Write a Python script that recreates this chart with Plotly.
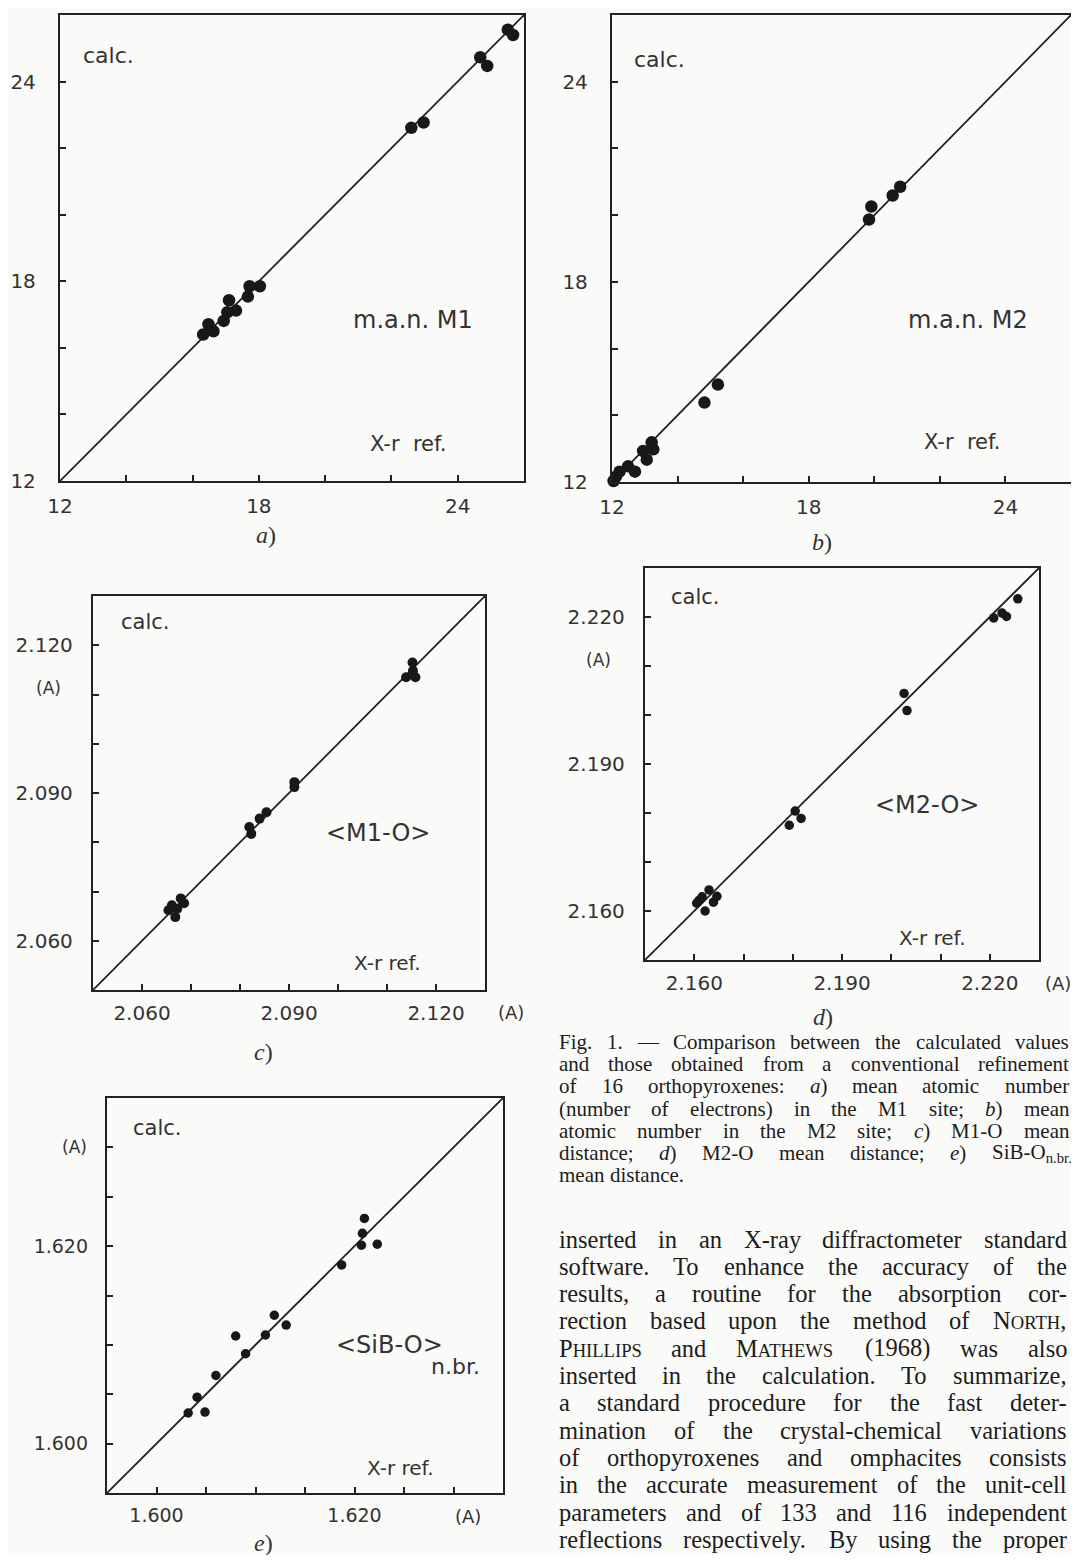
import plotly.graph_objects as go

# page is 1079 x 1563; the html body keeps an 8 px margin, so the figure is
# sized to fit inside it and every position below is given in page pixels.
PAGE_W, PAGE_H = 1079, 1563
OFF = 8
W, H = PAGE_W - 2 * OFF, PAGE_H - 2 * OFF

# ---------------- data ----------------
# a) mean atomic number, M1 site
a_xref = [16.32, 16.48, 16.63, 16.94, 17.05, 17.10, 17.31, 17.67, 17.72, 18.03,
          22.60, 22.97, 24.68, 24.89, 25.51, 25.67]
a_calc = [16.40, 16.71, 16.50, 16.81, 17.07, 17.43, 17.12, 17.54, 17.85, 17.85,
          22.61, 22.77, 24.73, 24.47, 25.56, 25.40]
# b) mean atomic number, M2 site
b_xref = [12.05, 12.12, 12.23, 12.49, 12.70, 12.95, 13.06, 13.21, 13.26, 14.82,
          15.23, 19.84, 19.91, 20.56, 20.79]
b_calc = [12.03, 12.16, 12.31, 12.47, 12.31, 12.93, 12.67, 13.19, 12.98, 14.38,
          14.92, 19.87, 20.26, 20.59, 20.85]
# c) <M1-O>
c_xref = [2.0654, 2.0661, 2.0668, 2.0672, 2.0679, 2.0686, 2.0819, 2.0823, 2.0840,
          2.0854, 2.0911, 2.0911, 2.1139, 2.1152, 2.1153, 2.1158]
c_calc = [2.0662, 2.0672, 2.0648, 2.0665, 2.0686, 2.0676, 2.0831, 2.0817, 2.0848,
          2.0861, 2.0922, 2.0912, 2.1135, 2.1165, 2.1148, 2.1135]
# d) <M2-O>
d_xref = [2.1605, 2.1610, 2.1616, 2.1622, 2.1630, 2.1639, 2.1646, 2.1793, 2.1805,
          2.1817, 2.2026, 2.2032, 2.2208, 2.2225, 2.2234, 2.2257]
d_calc = [2.1616, 2.1622, 2.1629, 2.1600, 2.1643, 2.1618, 2.1630, 2.1775, 2.1804,
          2.1789, 2.2044, 2.2009, 2.2198, 2.2208, 2.2201, 2.2237]
# e) <SiB-O> n.br.
e_xref = [1.6032, 1.6041, 1.6049, 1.6060, 1.6080, 1.6090, 1.6110, 1.6119, 1.6131,
          1.6187, 1.6208, 1.6207, 1.6210, 1.6223]
e_calc = [1.6031, 1.6047, 1.6032, 1.6069, 1.6109, 1.6091, 1.6110, 1.6130, 1.6120,
          1.6181, 1.6213, 1.6201, 1.6228, 1.6202]

# axis ranges (the 1:1 line is drawn between the range ends)
a_range = [12, 26]
b_range = [12, 26]
c_range = [2.050, 2.130]
d_range = [2.150, 2.230]
e_range = [1.595, 1.635]

# ticks and tick labels
ab_ticks = [12, 14, 16, 18, 20, 22, 24]
ab_ticktext = ["12", " ", " ", "18", " ", " ", "24"]
c_ticks = [2.060, 2.070, 2.080, 2.090, 2.100, 2.110, 2.120]
c_ticktext = ["2.060", " ", " ", "2.090", " ", " ", "2.120"]
d_ticks = [2.160, 2.170, 2.180, 2.190, 2.200, 2.210, 2.220]
d_ticktext = ["2.160", " ", " ", "2.190", " ", " ", "2.220"]
e_ticks = [1.600, 1.605, 1.610, 1.615, 1.620, 1.625, 1.630]
e_ticktext = ["1.600", " ", " ", " ", "1.620", " ", " "]

# ---------------- styling ----------------
BG = "#fafaf8"
INK = "#222222"
TXT = "#333333"
SANS = "DejaVu Sans"
SERIF = "Liberation Serif"


def fx(px):
    return (px - OFF) / W


def fy(py):
    return 1 - (py - OFF) / H


fig = go.Figure()

panels = [
    dict(xs=a_xref, ys=a_calc, rng=a_range, box=(60, 15, 524, 481),
         xt=ab_ticks, xtt=ab_ticktext, yt=ab_ticks, ytt=ab_ticktext, ms=12.5,
         fs=20, xso=6, yso=18),
    dict(xs=b_xref, ys=b_calc, rng=b_range, box=(612, 15, 1071, 482),
         xt=ab_ticks, xtt=ab_ticktext, yt=ab_ticks, ytt=ab_ticktext, ms=12.5,
         fs=20, xso=6, yso=18),
    dict(xs=c_xref, ys=c_calc, rng=c_range, box=(93, 596, 485, 990),
         xt=c_ticks, xtt=c_ticktext, yt=c_ticks, ytt=c_ticktext, ms=10,
         fs=20, xso=4, yso=14),
    dict(xs=d_xref, ys=d_calc, rng=d_range, box=(645, 568, 1039, 960),
         xt=d_ticks, xtt=d_ticktext, yt=d_ticks, ytt=d_ticktext, ms=9.5,
         fs=20, xso=4, yso=14),
    dict(xs=e_xref, ys=e_calc, rng=e_range, box=(107, 1098, 503, 1493),
         xt=e_ticks, xtt=e_ticktext, yt=e_ticks, ytt=e_ticktext, ms=9.5,
         fs=19, xso=4, yso=13),
]

layout_axes = {}
for i, p in enumerate(panels, start=1):
    sfx = "" if i == 1 else str(i)
    l, t, r, b = p["box"]
    common = dict(range=p["rng"], showline=True, mirror=True, linecolor=INK,
                  linewidth=2.3, ticks="inside", ticklen=6, tickwidth=2,
                  tickcolor=INK, showgrid=False, zeroline=False,
                  tickmode="array", automargin=False,
                  tickfont=dict(family=SANS, size=p["fs"], color=TXT),
                  fixedrange=True)
    layout_axes["xaxis" + sfx] = dict(common, domain=[fx(l), fx(r)],
                                      anchor="y" + sfx, tickvals=p["xt"],
                                      ticktext=p["xtt"],
                                      ticklabelstandoff=p["xso"])
    layout_axes["yaxis" + sfx] = dict(common, domain=[fy(b), fy(t)],
                                      anchor="x" + sfx, tickvals=p["yt"],
                                      ticktext=p["ytt"],
                                      ticklabelstandoff=p["yso"])
    xa, ya = "x" + sfx, "y" + sfx
    fig.add_trace(go.Scatter(x=p["rng"], y=p["rng"], mode="lines",
                             line=dict(color=INK, width=1.8),
                             xaxis=xa, yaxis=ya, hoverinfo="skip",
                             showlegend=False, cliponaxis=False))
    fig.add_trace(go.Scatter(x=p["xs"], y=p["ys"], mode="markers",
                             marker=dict(color="#181818", size=p["ms"]),
                             xaxis=xa, yaxis=ya, showlegend=False,
                             cliponaxis=False))

fig.update_layout(width=W, height=H, autosize=False,
                  margin=dict(l=0, r=0, t=0, b=0, pad=0),
                  paper_bgcolor=BG, plot_bgcolor=BG, **layout_axes)


def put(text, px, py, size, xanchor="center", family=SANS, color=TXT):
    fig.add_annotation(text=text, x=fx(px), y=fy(py), xref="paper",
                       yref="paper", showarrow=False, xanchor=xanchor,
                       yanchor="middle", borderpad=0,
                       font=dict(family=family, size=size, color=color))


# panel texts
put("calc.", 82, 55, 22, "left")
put("m.a.n. M1", 413, 320, 24)
put("X-r\u00a0 ref.", 408, 444, 21)
put("<i>a</i>)", 266, 535, 24, family=SERIF)

put("calc.", 633, 60, 22, "left")
put("m.a.n. M2", 968, 320, 24)
put("X-r\u00a0 ref.", 962, 442, 21)
put("<i>b</i>)", 822, 542, 24, family=SERIF)

put("calc.", 120, 622, 21, "left")
put("(A)", 48, 688, 17)
put("&lt;M1-O&gt;", 378, 833, 24)
put("X-r ref.", 387, 963, 20)
put("(A)", 511, 1012, 18)
put("<i>c</i>)", 263, 1052, 24, family=SERIF)

put("calc.", 670, 597, 21, "left")
put("(A)", 598, 660, 17)
put("&lt;M2-O&gt;", 927, 805, 24)
put("X-r ref.", 932, 938, 20)
put("(A)", 1058, 983, 18)
put("<i>d</i>)", 823, 1017, 24, family=SERIF)

put("calc.", 132, 1128, 21, "left")
put("(A)", 74, 1147, 17)
put("&lt;SiB-O&gt;", 389, 1345, 24)
put("n.br.", 455, 1366, 22)
put("X-r ref.", 400, 1468, 20)
put("(A)", 468, 1516, 18)
put("<i>e</i>)", 263, 1543, 24, family=SERIF)

# ---------------- caption and running text (justified) ----------------
TW = {" ": 250, "!": 333, "(": 333, ")": 333, ",": 250, "-": 333, ".": 250,
      ":": 278, ";": 278, "\u2014": 1000,
      "A": 722, "B": 667, "C": 667, "D": 722, "E": 611, "F": 556, "G": 722,
      "H": 722, "I": 333, "J": 389, "K": 722, "L": 611, "M": 889, "N": 722,
      "O": 722, "P": 556, "Q": 722, "R": 667, "S": 556, "T": 611, "U": 722,
      "V": 722, "W": 944, "X": 722, "Y": 722, "Z": 611,
      "a": 444, "b": 500, "c": 444, "d": 500, "e": 444, "f": 333, "g": 500,
      "h": 500, "i": 278, "j": 278, "k": 500, "l": 278, "m": 778, "n": 500,
      "o": 500, "p": 500, "q": 500, "r": 333, "s": 389, "t": 278, "u": 500,
      "v": 500, "w": 722, "x": 500, "y": 500, "z": 444}


def tw(s, size):
    return sum(TW.get(ch, 500) for ch in s) * size / 1000.0


def token(tok, size):
    if tok.startswith("_"):
        s = tok[1:]
        word = s.rstrip(")")
        return "<i>%s</i>%s" % (word, s[len(word):]), tw(s, size)
    if tok.startswith("^"):
        s = tok[1:]
        first, rest = s[0], s[1:]
        letters = rest.rstrip(",.;:")
        punct = rest[len(letters):]
        sc = round(size * 0.76, 1)
        html = "%s<span style='font-size:%spx'>%s</span>%s" % (first, sc, letters, punct)
        return html, tw(first, size) + tw(letters, sc) + tw(punct, size)
    if "~" in tok:
        main, sub = tok.split("~")
        return "%s<sub>%s</sub>" % (main, sub), tw(main, size) + tw(sub, size * 0.6)
    return tok, tw(tok, size)


def paragraph(lines, x0, x1, y0, dy, size, last_free=True):
    for li, line in enumerate(lines):
        toks = [token(t, size) for t in line.split(" ")]
        total = sum(w for _, w in toks)
        free = last_free and li == len(lines) - 1
        gap = 0.25 * size if (free or len(toks) < 2) else (x1 - x0 - total) / (len(toks) - 1)
        x = x0
        for html, w in toks:
            put(html, x, y0 + li * dy, size, "left", family=SERIF, color="#1c1c1c")
            x += w + gap


caption = [
    "Fig. 1. \u2014 Comparison between the calculated values",
    "and those obtained from a conventional refinement",
    "of 16 orthopyroxenes: _a) mean atomic number",
    "(number of electrons) in the M1 site; _b) mean",
    "atomic number in the M2 site; _c) M1-O mean",
    "distance; _d) M2-O mean distance; _e) SiB-O~n.br.",
    "mean distance.",
]
body = [
    "inserted in an X-ray diffractometer standard",
    "software. To enhance the accuracy of the",
    "results, a routine for the absorption cor-",
    "rection based upon the method of ^NORTH,",
    "^PHILLIPS and ^MATHEWS (1968) was also",
    "inserted in the calculation. To summarize,",
    "a standard procedure for the fast deter-",
    "mination of the crystal-chemical variations",
    "of orthopyroxenes and omphacites consists",
    "in the accurate measurement of the unit-cell",
    "parameters and of 133 and 116 independent",
    "reflections respectively. By using the proper",
]

paragraph(caption, 558, 1068, 1042, 22.2, 21, last_free=True)
paragraph(body, 558, 1066, 1239, 27.3, 24.5, last_free=False)

fig.write_html("out.html", config={"displayModeBar": False})
